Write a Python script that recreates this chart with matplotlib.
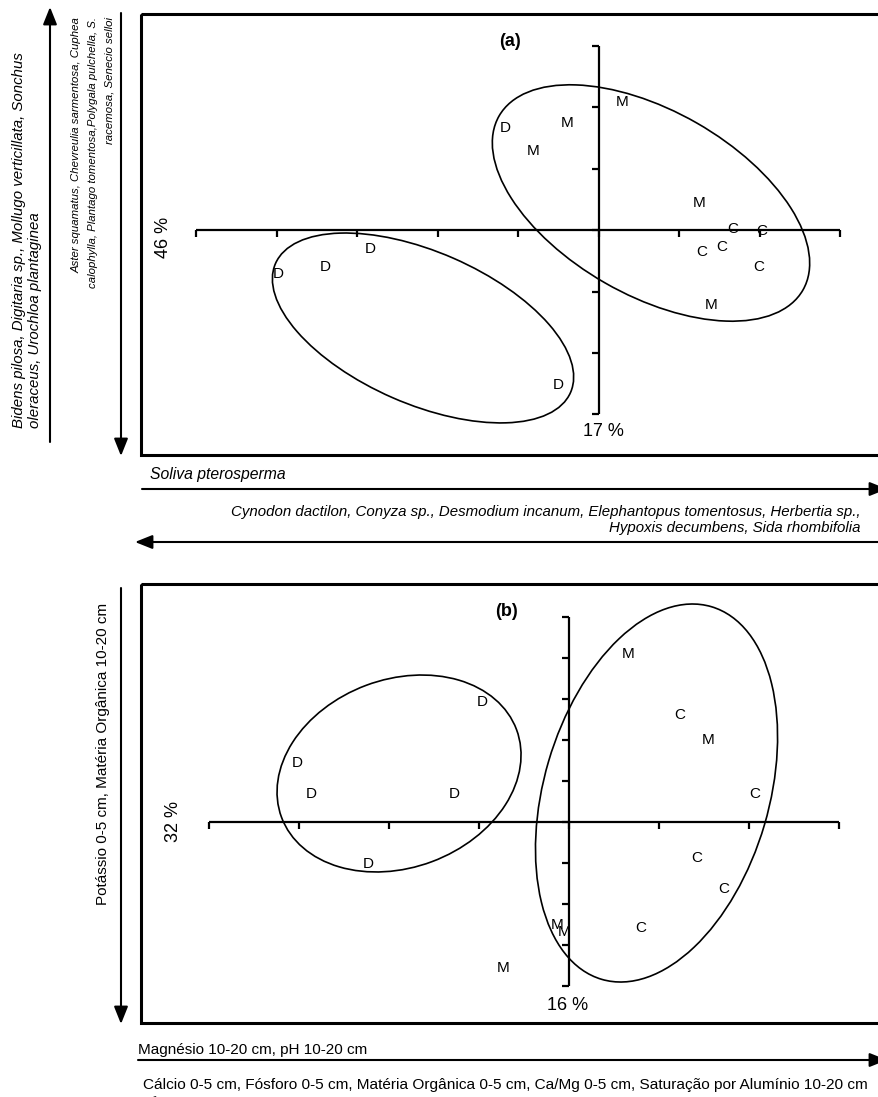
import matplotlib
matplotlib.use("Agg")
import matplotlib.pyplot as plt
import numpy as np
from matplotlib import font_manager
from matplotlib.markers import TICKDOWN, TICKLEFT
from matplotlib.patches import Ellipse, Rectangle
from matplotlib.transforms import Affine2D

plt.rcParams["font.family"] = ["Liberation Sans", "DejaVu Sans"]
_installed = {f.name for f in font_manager.fontManager.ttflist}
NARROW = "Liberation Sans Narrow" in _installed

W, H = 879, 1097

# PCA scores, (a) species composition
A_LABELS = ["D", "M", "M", "M", "M", "C", "C", "C", "C", "C", "M", "D", "D", "D", "D"]
A_X = [-1.17, -0.39, -0.82, 0.29, 1.25, 1.66, 2.02, 1.52, 1.28, 1.99, 1.39, -2.84, -3.40, -3.99, -0.50]
A_Y = [1.66, 1.74, 1.28, 2.08, 0.44, 0.02, -0.02, -0.28, -0.36, -0.60, -1.22, -0.31, -0.60, -0.72, -2.52]
A_XTICKS = np.arange(-5, 4)
A_YTICKS = np.arange(-3, 4)
# group ellipses: centre x, centre y, width, height (x units), angle
A_ELLIPSES = [(0.646, 0.439, 4.35, 2.29, -29.8),
              (-2.186, -1.593, 4.00, 1.89, -23.6)]

# PCA scores, (b) soil attributes
B_LABELS = ["M", "D", "C", "M", "D", "D", "D", "C", "C", "D", "C", "M", "M", "C", "M"]
B_X = [0.65, -0.97, 1.23, 1.54, -3.03, -2.87, -1.28, 2.06, 1.41, -2.24, 1.71, -0.14, -0.06, 0.79, -0.74]
B_Y = [4.10, 2.93, 2.61, 2.00, 1.44, 0.68, 0.68, 0.68, -0.88, -1.02, -1.63, -2.51, -2.68, -2.59, -3.56]
B_XTICKS = np.arange(-4, 4)
B_YTICKS = np.arange(-4, 6)
B_ELLIPSES = [(-1.894, 1.183, 2.787, 2.091, 20.5),
              (0.967, 0.707, 4.316, 2.50, 73.6)]

A_AXIS1, A_AXIS2 = "17 %", "46 %"
B_AXIS1, B_AXIS2 = "16 %", "32 %"

A_LEFT_UP = ("Bidens pilosa, Digitaria sp., Mollugo verticillata, Sonchus\n"
             "oleraceus, Urochloa plantaginea")
A_LEFT_DOWN = ("Aster squamatus, Chevreulia sarmentosa, Cuphea\n"
               "calophylla, Plantago tomentosa,Polygala pulchella, S.\n"
               "racemosa, Senecio selloi")
A_BOTTOM_RIGHT = "Soliva pterosperma"
A_BOTTOM_LEFT = ("Cynodon dactilon, Conyza sp., Desmodium incanum, Elephantopus tomentosus, Herbertia sp.,\n"
                 "Hypoxis decumbens, Sida rhombifolia")
B_LEFT_DOWN = "Potássio 0-5 cm, Matéria Orgânica 10-20 cm"
B_BOTTOM_RIGHT = "Magnésio 10-20 cm, pH 10-20 cm"
B_BOTTOM_LEFT = ("Cálcio 0-5 cm, Fósforo 0-5 cm, Matéria Orgânica 0-5 cm, "
                 "Ca/Mg 0-5 cm, Saturação por Alumínio 10-20 cm")

FS = 11


def px_axes(fig, left, top, right, bottom):
    return fig.add_axes([left / W, 1 - bottom / H, (right - left) / W, (bottom - top) / H])


def arrow(ax, tail, tip):
    ax.annotate("", xy=tip, xytext=tail, annotation_clip=False,
                arrowprops=dict(arrowstyle="-|>,head_length=1.0,head_width=0.4",
                                mutation_scale=10.5, lw=1.5, color="black",
                                shrinkA=0, shrinkB=0))


def biplot(ax, labels, xs, ys, xticks, yticks, ellipses):
    ax.set_axis_off()
    # ellipses are given in x units; rescale y so they are not squashed
    p0 = ax.transData.transform((0, 0))
    p1 = ax.transData.transform((1, 1))
    ys_ratio = (p1[0] - p0[0]) / (p1[1] - p0[1])
    iso = Affine2D().scale(1, ys_ratio) + ax.transData
    for cx, cy, w, h, ang in ellipses:
        ax.add_patch(Ellipse((cx, cy / ys_ratio), w, h, angle=ang, transform=iso,
                             fill=False, lw=1.2, color="black"))

    ax.plot([xticks[0], xticks[-1]], [0, 0], color="black", lw=1.6, solid_capstyle="butt")
    ax.plot([0, 0], [yticks[0], yticks[-1]], color="black", lw=1.6, solid_capstyle="butt")
    ax.plot(xticks, np.zeros_like(xticks), ls="none", marker=TICKDOWN, ms=5, mew=1.6, color="black")
    ax.plot(np.zeros_like(yticks), yticks, ls="none", marker=TICKLEFT, ms=5, mew=1.6, color="black")

    for lab, x, y in zip(labels, xs, ys):
        ax.text(x, y, lab, ha="center", va="center", fontsize=FS)


def gaps(ax, segs):
    # small white breaks in the axis lines where the ellipse outlines were cut
    for (x0, y0), (x1, y1) in segs:
        ax.plot([x0, x1], [y0, y1], color="white", lw=2.4, solid_capstyle="butt")


fig = plt.figure(figsize=(W / 100, H / 100), dpi=100)

bg = fig.add_axes([0, 0, 1, 1])
bg.set_xlim(0, W)
bg.set_ylim(H, 0)
bg.set_axis_off()

# ---- panel (a) ----
bg.add_patch(Rectangle((141, 14), 800, 441, fill=False, lw=2.2, color="black"))
ax_a = px_axes(fig, 141, 14, W, 455)
ax_a.set_xlim((141 - 599) / 80.5, (W - 599) / 80.5)
ax_a.set_ylim((230 - 455) / 61.5, (230 - 14) / 61.5)
biplot(ax_a, A_LABELS, A_X, A_Y, A_XTICKS, A_YTICKS, A_ELLIPSES)
gaps(bg, [((575, 230), (582, 230)), ((599, 249), (599, 254)), ((599, 262), (599, 266))])
bg.text(510, 42, "(a)", ha="center", va="center", fontsize=13, fontweight="bold")
bg.text(603, 432, A_AXIS1, ha="center", va="center", fontsize=13)
bg.text(164, 237, A_AXIS2, ha="center", va="center", fontsize=13, rotation=90)

arrow(bg, (50, 442), (50, 7))
arrow(bg, (121, 13), (121, 456))
bg.text(27, 428, A_LEFT_UP, rotation=90, ha="center", va="bottom",
        multialignment="left", fontsize=10.8, style="italic", linespacing=1.15)
if NARROW:
    bg.text(93, 17, A_LEFT_DOWN, rotation=90, ha="center", va="top",
            multialignment="right", fontsize=9.6, style="italic", linespacing=1.45,
            family=["Liberation Sans Narrow", "Liberation Sans"])
else:
    bg.text(93, 17, A_LEFT_DOWN, rotation=90, ha="center", va="top",
            multialignment="right", fontsize=8.2, style="italic", linespacing=1.85)

bg.text(150, 475, A_BOTTOM_RIGHT, ha="left", va="center", fontsize=11.3, style="italic")
arrow(bg, (142, 489), (887, 489))
bg.text(861, 520, A_BOTTOM_LEFT, ha="right", va="center", multialignment="right",
        fontsize=10.8, style="italic", linespacing=1.1)
arrow(bg, (900, 542), (135, 542))

# ---- panel (b) ----
bg.add_patch(Rectangle((141, 584), 800, 439, fill=False, lw=2.2, color="black"))
ax_b = px_axes(fig, 141, 584, W, 1023)
ax_b.set_xlim((141 - 569.5) / 90, (W - 569.5) / 90)
ax_b.set_ylim((822 - 1023) / 41, (822 - 584) / 41)
biplot(ax_b, B_LABELS, B_X, B_Y, B_XTICKS, B_YTICKS, B_ELLIPSES)
gaps(bg, [((547, 822), (553, 822)), ((569.5, 839), (569.5, 844)), ((569.5, 854), (569.5, 859))])
bg.text(507, 612, "(b)", ha="center", va="center", fontsize=13, fontweight="bold")
bg.text(568, 1006, B_AXIS1, ha="center", va="center", fontsize=13)
bg.text(174, 822, B_AXIS2, ha="center", va="center", fontsize=13, rotation=90)

arrow(bg, (121, 588), (121, 1024))
bg.text(103, 905, B_LEFT_DOWN, rotation=90, ha="center", va="bottom", fontsize=FS)

bg.text(138, 1050, B_BOTTOM_RIGHT, ha="left", va="center", fontsize=FS)
arrow(bg, (138, 1060), (887, 1060))
bg.text(143, 1085, B_BOTTOM_LEFT, ha="left", va="center", fontsize=11.1)
arrow(bg, (900, 1103), (138, 1103))

fig.savefig("out.png", dpi=100)
